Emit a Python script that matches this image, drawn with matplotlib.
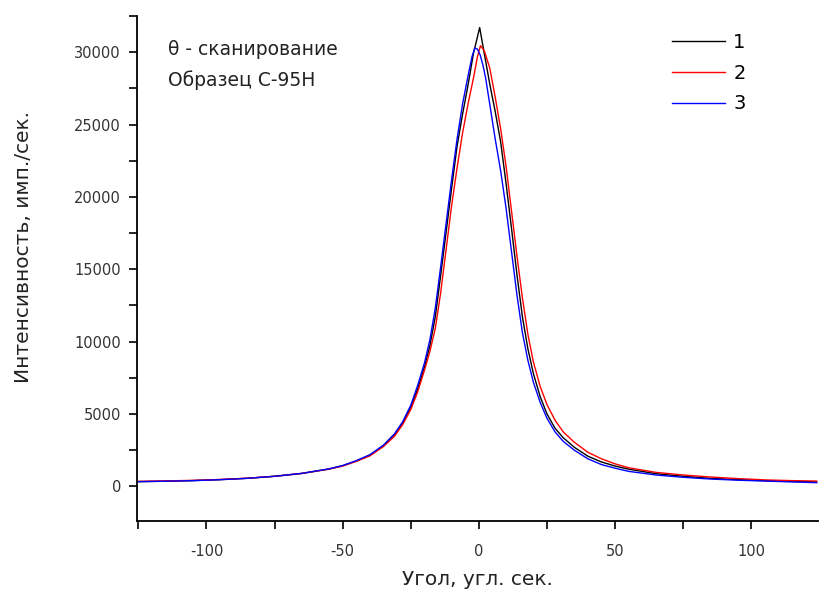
import matplotlib.pyplot as plt
from matplotlib.ticker import MultipleLocator

plt.rcParams['axes.unicode_minus'] = False

# Angle (arc sec) and intensity values
angle_1 = [-125, -115, -105, -95, -85, -75, -65, -55, -50, -45, -40, -35, -31, -28, -25,
           -22.5, -20, -18, -16, -14, -12, -10, -8, -6, -4, -2, 0.3, 2, 4, 6, 8, 10, 12,
           14, 16, 18, 20, 22.5, 25, 28, 31, 35, 40, 45, 50, 55, 65, 75, 85, 95, 105,
           115, 124]
intensity_1 = [320, 350, 390, 460, 550, 690, 890, 1200, 1420, 1750, 2150, 2800, 3550, 4350,
               5450, 6700, 8200, 9700, 11700, 14600, 17600, 20600, 23500, 25700, 27700,
               29900, 31700, 29900, 27800, 25900, 23800, 20900, 17800, 14600, 11700, 9500,
               7800, 6200, 5000, 4000, 3350, 2700, 2080, 1680, 1400, 1180, 870, 690, 550,
               460, 390, 340, 300]

angle_2 = [-125, -115, -105, -95, -85, -75, -65, -55, -50, -45, -40, -35, -31, -28, -25,
           -22.5, -20, -18, -16, -14, -12, -10, -8, -6, -4, -2, -0.5, 0.6, 2, 4, 6, 8, 10,
           12, 14, 16, 18, 20, 22.5, 25, 28, 31, 35, 40, 45, 50, 55, 65, 75, 85, 95, 105,
           115, 124]
intensity_2 = [340, 370, 410, 470, 560, 690, 885, 1180, 1400, 1720, 2100, 2750, 3450, 4250,
               5300, 6500, 8000, 9300, 10900, 13400, 16400, 19400, 22000, 24400, 26400,
               28200, 29700, 30450, 30100, 28900, 26900, 24700, 22100, 19000, 15900, 13000,
               10500, 8600, 6900, 5650, 4550, 3750, 3050, 2350, 1900, 1550, 1280, 960, 780,
               640, 530, 440, 390, 360]

angle_3 = [-125, -115, -105, -95, -85, -75, -65, -55, -50, -45, -40, -35, -31, -28, -25,
           -22.5, -20, -18, -16, -14, -12, -10, -8, -6, -4, -2.5, -1.5, -0.5, 0.5, 1.5,
           2.5, 4, 6, 8, 10, 12, 14, 16, 18, 20, 22.5, 25, 28, 31, 35, 40, 45, 50, 55, 65,
           75, 85, 95, 105, 115, 124]
intensity_3 = [320, 350, 390, 455, 550, 690, 890, 1200, 1430, 1770, 2180, 2850, 3620, 4450,
               5600, 6950, 8500, 10100, 12300, 15200, 18200, 21200, 24000, 26400, 28330,
               29700, 30290, 30200, 29800, 29100, 28200, 26400, 24000, 21800, 19200, 16200,
               13200, 10600, 8700, 7200, 5800, 4700, 3750, 3100, 2500, 1900, 1500, 1250,
               1030, 780, 620, 500, 420, 360, 300, 250]

labels = ['1', '2', '3']
colors = ['black', '#ff0000', '#0000ff']

fig = plt.figure(figsize=(8.19, 5.99), dpi=100)
ax = fig.add_axes([137 / 819, 78 / 599, 681 / 819, 505 / 599])

ax.plot(angle_1, intensity_1, color=colors[0], lw=1.0, label=labels[0])
ax.plot(angle_2, intensity_2, color=colors[1], lw=1.0, label=labels[1])
ax.plot(angle_3, intensity_3, color=colors[2], lw=1.0, label=labels[2])

ax.set_xlim(-125.5, 124.5)
ax.set_ylim(-2400, 32500)

# Origin-like axes: only left and bottom, ticks pointing out
ax.spines['top'].set_visible(False)
ax.spines['right'].set_visible(False)
ax.spines['left'].set_linewidth(1.3)
ax.spines['bottom'].set_linewidth(1.3)
ax.xaxis.set_major_locator(MultipleLocator(50))
ax.xaxis.set_minor_locator(MultipleLocator(25))
ax.yaxis.set_major_locator(MultipleLocator(5000))
ax.yaxis.set_minor_locator(MultipleLocator(2500))
ax.tick_params(axis='both', which='both', direction='out', length=5.5, width=1.2,
               labelsize=10.5, labelcolor='#333333')
ax.tick_params(axis='x', which='major', pad=11)
ax.tick_params(axis='y', which='major', pad=6)

ax.set_xlabel('Угол, угл. сек.', fontsize=14.5, color='#222222')
ax.set_ylabel('Интенсивность, имп./сек.', fontsize=14.5, color='#222222')
ax.xaxis.set_label_coords(0.5, -0.098)
ax.yaxis.set_label_coords(-0.152, 0.543)

ax.text(0.046, 0.933, 'θ - сканирование', transform=ax.transAxes, fontsize=13.5,
        va='center', ha='left', color='#222222')
ax.text(0.046, 0.873, 'Образец С-95Н', transform=ax.transAxes, fontsize=13.5,
        va='center', ha='left', color='#222222')

ax.legend(loc='upper left', bbox_to_anchor=(672 / 819, 1 - 33 / 599),
          bbox_transform=fig.transFigure, frameon=False, fontsize=14,
          handlelength=2.75, handletextpad=0.4, labelspacing=0.6, borderpad=0,
          borderaxespad=0)

plt.savefig('out.png', dpi=100)
